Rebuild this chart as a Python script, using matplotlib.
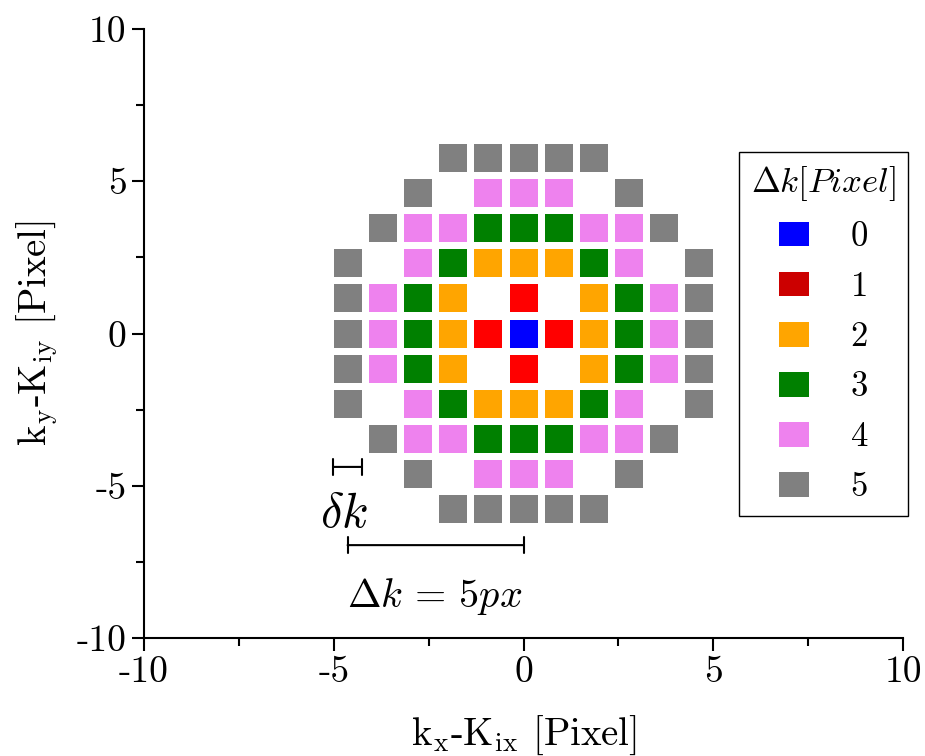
import numpy as np
import matplotlib
matplotlib.use("Agg")
import matplotlib.pyplot as plt
from matplotlib.patches import Patch

plt.rcParams["font.family"] = "serif"
plt.rcParams["font.serif"] = ["cmr10", "DejaVu Serif"]
plt.rcParams["mathtext.fontset"] = "cm"
plt.rcParams["axes.unicode_minus"] = False
plt.rcParams["axes.formatter.use_mathtext"] = True

# ring index of each pixel around the centre, rows from top (+5) to bottom (-5)
ring_map = [
    "...55555...",
    "..5.444.5..",
    ".544333445.",
    "5.4322234.5",
    "5432.1.2345",
    "54321012345",
    "5432.1.2345",
    "5.4322234.5",
    ".544333445.",
    "..5.444.5..",
    "...55555...",
]
ring_labels = ["0", "1", "2", "3", "4", "5"]
ring_colors = ["#0000FF", "#FF0000", "#FFA500", "#008000", "#EE82EE", "#808080"]
legend_colors = ["#0000FF", "#CC0000", "#FFA500", "#008000", "#EE82EE", "#808080"]

# size of one pixel in axis units
step_x = 0.927
step_y = 1.153

ticks = [-10, -5, 0, 5, 10]
tick_labels = ["-10", "-5", "0", "5", "10"]

fig = plt.figure(figsize=(9.25, 7.56), dpi=100)
ax = fig.add_axes([144 / 925, 118 / 756, 759 / 925, 609 / 756])

half = len(ring_map) // 2
for r, lab in enumerate(ring_labels):
    pts = [(c - half, half - row)
           for row, line in enumerate(ring_map)
           for c, ch in enumerate(line) if ch == lab]
    ix, iy = np.array(pts).T
    ax.scatter(ix * step_x, iy * step_y, marker="s", s=400,
               c=ring_colors[r], linewidths=0, zorder=3)

# scale bars
bar_style = dict(arrowstyle="|-|, widthA=0.6, widthB=0.6", lw=1.5,
                 color="black", shrinkA=0, shrinkB=0)
ax.annotate("", xy=(-5 * step_x - 0.38, -3.8 * step_y),
            xytext=(-5 * step_x + 0.38, -3.8 * step_y), arrowprops=bar_style)
ax.text(-5 * step_x - 0.1, -5.95, r"$\delta k$", fontsize=35, ha="center", va="center")
ax.annotate("", xy=(-5 * step_x, -6.95), xytext=(0, -6.95), arrowprops=bar_style)
ax.text(-2.33, -8.65, r"$\Delta k\,=\,5px$", fontsize=29, ha="center", va="center")

ax.set_xlim(-10, 10)
ax.set_ylim(-10, 10)
ax.set_xticks(ticks, labels=tick_labels)
ax.set_yticks(ticks, labels=tick_labels)
ax.set_xticks([-7.5, -2.5, 2.5, 7.5], minor=True)
ax.set_yticks([-7.5, -2.5, 2.5, 7.5], minor=True)
ax.tick_params(which="both", direction="out", width=1.5, labelsize=27)
ax.tick_params(which="major", length=9)
ax.tick_params(which="minor", length=6)
for side in ["top", "right"]:
    ax.spines[side].set_visible(False)
for side in ["left", "bottom"]:
    ax.spines[side].set_linewidth(1.5)

ax.set_xlabel(r"k$_\mathrm{x}$-K$_\mathrm{ix}$ [Pixel]", fontsize=28, labelpad=18)
ax.set_ylabel(r"k$_\mathrm{y}$-K$_\mathrm{iy}$ [Pixel]", fontsize=28, labelpad=12)

handles = [Patch(facecolor=c, edgecolor="none") for c in legend_colors]
leg = ax.legend(handles, ring_labels, title=r"$\Delta k[Pixel]$", title_fontsize=25,
                fontsize=25, loc="upper right", bbox_to_anchor=(908 / 925, 604 / 756),
                bbox_transform=fig.transFigure, frameon=True, fancybox=False,
                framealpha=1, edgecolor="black", handlelength=0.86, handleheight=0.72,
                handletextpad=1.2, labelspacing=0.53, borderpad=0.35, borderaxespad=0)
leg.get_frame().set_linewidth(1.0)

fig.savefig("out.png", dpi=100)
